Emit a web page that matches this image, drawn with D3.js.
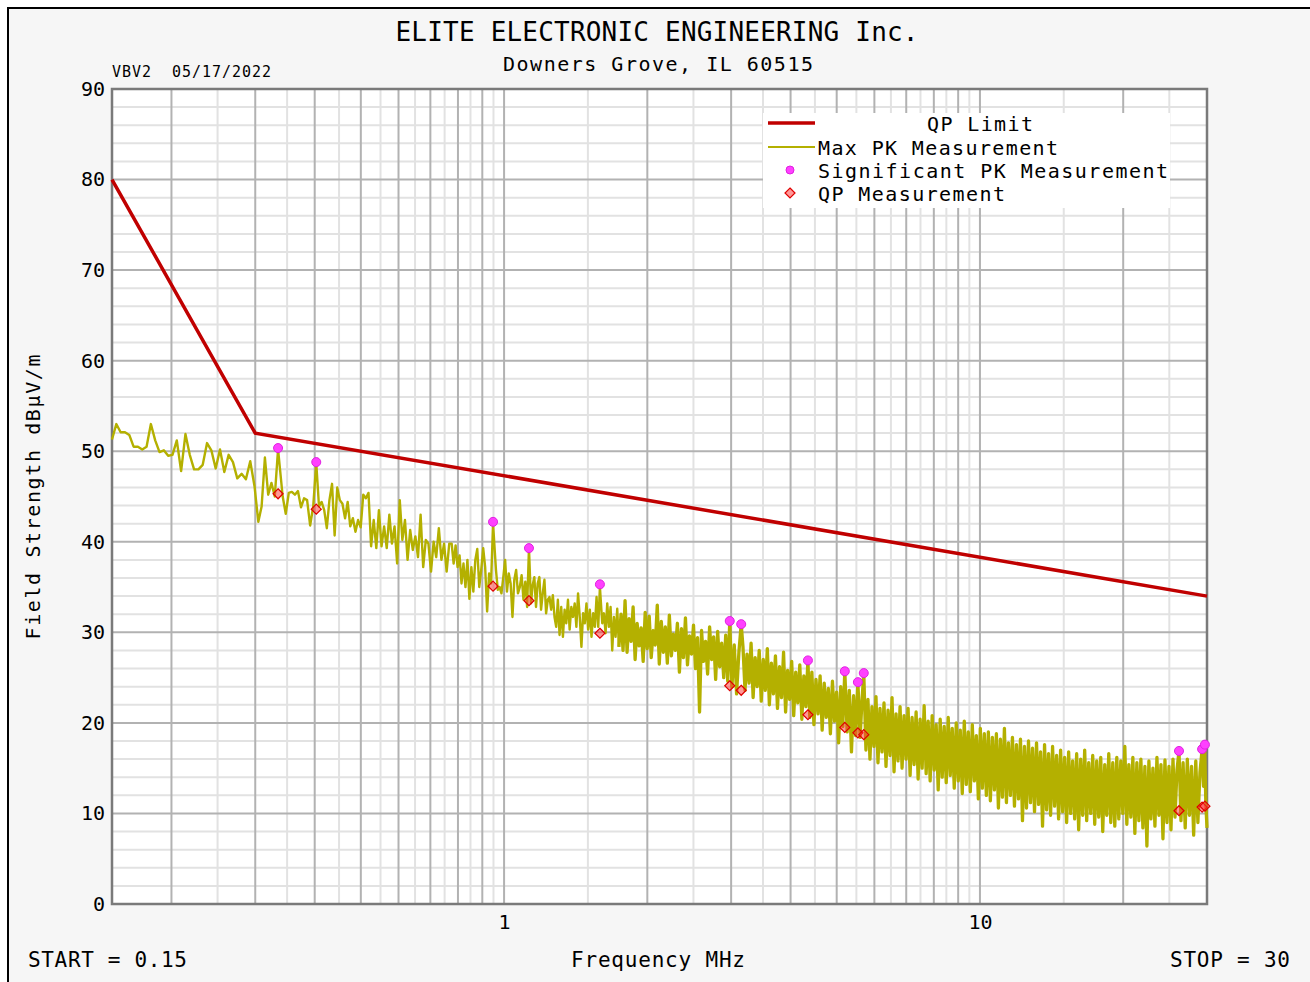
<!DOCTYPE html>
<meta charset="utf-8">
<title>Field Strength vs Frequency</title>
<style>
body { margin: 0; background: #fff; }
text { font-family: "DejaVu Sans Mono", monospace; fill: #000; }
.grid-major { stroke: #b2b2b2; stroke-width: 2; }
.grid-minor { stroke: #e2e2e2; stroke-width: 2; }
.axis path { display: none; }
.axis text { font-size: 20px; }
</style>
<body>
<script src="https://d3js.org/d3.v7.min.js"></script>
<script>

// QP limit (MHz, dBuV/m)
var limitFreq = [0.15, 0.3, 30];
var limitLevel = [80, 52, 34];

// max peak sweep, in pieces: [from MHz, to MHz, levels, spread evenly (log) over the piece]
var pkSweep = [
  [0.15, 0.299, [51.3,53.0,52.1,52.1,51.8,50.5,50.5,50.2,50.5,53.0,51.2,49.9,50.1,49.5,49.6,51.2,47.8,51.9,49.6,48.0,48.0,48.5,50.9,50.1,48.1,50.2,47.7,49.6,48.8,47.0,47.5,46.9,48.9,46.1]],
  [0.3045, 0.335, [42.2,43.9,49.3,45.2,46.5,45.0,50.2]],
  [0.3426, 0.403, [45.0,43.1,45.4,45.5,45.2,45.6,43.8,44.8,44.6,41.8,43.9,48.7]],
  [0.4084, 0.767, [43.9,44.4,43.5,41.5,44.6,46.4,40.7,46.0,44.6,44.2,42.6,44.4,41.7,42.6,41.1,42.4,41.6,45.2,44.8,45.4,39.5,42.4,39.3,43.5,39.5,41.7,39.3,43.0,39.8,41.7,37.6,44.6,40.2,42.4,38.0,41.3,39.1,40.6,38.3,43.0,37.2,40.2,39.8,36.7,40.0,38.3,41.5,38.0,39.8,36.7,39.8]],
  [0.776, 0.948, [39.8,37.6,39.6,37.2,38.5,35.4,37.6,35.0,38.0,33.7,37.2,34.5,38.0,39.2,35.0,36.9,39.3,37.2,32.3,36.5,35.4,42.0]],
  [0.9615, 1.128, [36.9,34.7,35.0,34.3,36.1,38.0,34.5,36.5,35.4,31.7,35.8,36.9,34.3,35.0,36.3,33.6,35.6,32.8,39.3]],
  [1.139, 1.59, [33.2,35.2,36.1,32.8,35.4,36.1,32.5,34.3,35.8,32.1,33.6,33.9,32.5,34.1,31.7,30.6,33.6,29.7,32.8,29.5,32.5,31.0,33.6,30.3,32.8,31.7,33.2,30.6,34.3,31.7,28.4,32.1,31.0,33.2,30.3,32.5,29.5,32.1,30.6,33.9,30.6,35.0]],
  [1.608, 1.743, [31.0,32.1,29.9,33.2,30.6,32.8,28.0,31.7,29.5,32.6,28.4]],
  [1.761, 2.98, [32.0,28.0,33.5,27.8,31.5,29.0,32.8,27.0,31.0,28.5,
                 30.5,26.8,32.2,28.2,31.8,27.2,30.2,28.6,33.0,26.5,
                 31.2,27.8,30.6,26.6,31.9,27.4,29.8,28.0,31.0,25.6,
                 30.4,27.2,31.6,26.4,29.6,27.6,30.8,26.0,29.4,21.2,
                 30.2,26.8,29.0,25.4,30.6,27.0,29.5,24.8,30.1,26.2,
                 28.8,25.0,29.7,24.6,31.2]],
  [3.012, 3.15, [24.0,28.6,23.2,27.8,30.9]],
  [3.177, 4.35, [28.4,23.6,27.6,24.4,28.8,22.8,27.2,24.0,28.0,22.4,
                 27.0,23.6,28.2,22.0,26.6,23.2,27.4,21.6,26.2,22.8,
                 27.8,21.2,25.8,22.6,26.8,20.8,25.6,22.2,26.4,20.4,
                 25.2,21.8,26.9]],
  [4.39, 5.2, [20.6,25.6,19.8,24.8,21.0,25.2,19.2,24.4,20.6,23.8,18.8,24.6,20.2,23.4,17.8,24.0,19.6,25.7]],
  [5.26, 5.54, [19.0,23.6,16.8,23.0,18.6,24.5]],
  [5.60, 5.70, [18.4,22.4,25.5]],
  [5.76, 26.2, [17.0,22.6,16.0,21.8,17.4,22.9,15.6,21.6,16.8,22.2,
                15.2,21.4,16.4,22.8,14.6,21.0,15.8,21.8,15.0,20.8,
                16.0,21.6,14.2,20.6,15.4,21.2,13.8,20.4,15.0,21.9,
                14.4,20.2,13.6,20.8,14.8,19.8,12.6,20.4,14.0,19.6,
                13.4,20.6,14.2,19.4,12.8,20.0,13.6,19.2,12.2,20.2,
                13.2,19.0,12.4,19.8,13.6,18.6,11.6,19.4,12.8,18.8,
                12.0,19.0,11.4,18.4,12.6,18.8,10.6,18.2,11.8,19.4,
                11.2,17.8,12.0,18.4,10.8,17.6,11.6,18.2,9.2,17.4,
                10.6,18.0,11.2,17.2,10.2,17.8,11.0,16.8,8.6,17.6,
                10.4,16.6,9.8,17.4,10.8,16.4,9.4,17.0,10.2,16.2,
                9.0,16.8,10.0,15.8,9.4,16.6,8.2,16.0,9.8,17.0,
                9.2,15.6,10.0,16.4,8.8,15.8,9.6,16.2,8.0,15.4,
                9.8,16.6,9.0,15.6,8.6,16.2,9.4,15.8,10.0,17.4,
                8.8,15.4,9.6,16.2,7.8,15.6,9.2,16.0,8.4,15.2,
                6.4,15.8,9.4,15.0,8.6,16.2,9.8,15.4,7.2,15.9,
                9.0,15.2,8.2,16.0,9.6,14.8,16.9]],
  [26.45, 29.3, [9.2,15.6,8.4,16.0,9.8,15.2,7.6,15.8,9.0,14.6,17.1]],
  [29.5, 30, [13.0,17.6,11.0,8.4]]
];

// significant peaks and their quasi-peak readings
var sigFreq  = [0.335, 0.403, 0.948, 1.128, 1.59, 2.98, 3.15, 4.35, 5.2, 5.54, 5.70, 26.2, 29.3, 29.7];
var sigLevel = [50.35, 48.8, 42.2, 39.3, 35.3, 31.25, 30.9, 26.9, 25.7, 24.5, 25.5, 16.9, 17.1, 17.6];
var qpLevel  = [45.3, 43.6, 35.1, 33.5, 29.9, 24.1, 23.6, 20.9, 19.5, 18.9, 18.7, 10.3, 10.7, 10.8];

var yTicks = [0, 10, 20, 30, 40, 50, 60, 70, 80, 90];
var xTicks = [1, 10];

var W = 1310, H = 982;
var pL = 112, pR = 1207, pT = 89, pB = 904;

var x = d3.scaleLog().domain([0.15, 30]).range([pL, pR]);
var y = d3.scaleLinear().domain([0, 90]).range([pB, pT]);

var svg = d3.select("body").append("svg")
    .attr("width", W)
    .attr("height", H);

// outer frame
svg.append("rect")
    .attr("x", 8).attr("y", 8)
    .attr("width", W + 20).attr("height", H + 20)
    .attr("fill", "#f6f6f6")
    .attr("stroke", "#000")
    .attr("stroke-width", 2);

svg.append("rect")
    .attr("x", pL).attr("y", pT)
    .attr("width", pR - pL).attr("height", pB - pT)
    .attr("fill", "#fff");

// grid lines
var xMajor = [], xMinor = [];
[0.1, 1, 10].forEach(function (dec) {
  for (var m = 1; m <= 9; m++) {
    var v = m * dec, h = (m + 0.5) * dec;
    if (v > 0.15 && v < 30) xMajor.push(v);
    if (h > 0.15 && h < 30) xMinor.push(h);
  }
});
var yMinor = d3.range(2, 90, 2).filter(function (d) { return d % 10 !== 0; });

var grid = svg.append("g");
grid.selectAll(".gx-min").data(xMinor).enter().append("line")
    .attr("class", "grid-minor")
    .attr("x1", d => x(d)).attr("x2", d => x(d))
    .attr("y1", pT).attr("y2", pB);
grid.selectAll(".gy-min").data(yMinor).enter().append("line")
    .attr("class", "grid-minor")
    .attr("x1", pL).attr("x2", pR)
    .attr("y1", d => y(d)).attr("y2", d => y(d));
grid.selectAll(".gx-maj").data(xMajor).enter().append("line")
    .attr("class", "grid-major")
    .attr("x1", d => x(d)).attr("x2", d => x(d))
    .attr("y1", pT).attr("y2", pB);
grid.selectAll(".gy-maj").data(yTicks.slice(1, -1)).enter().append("line")
    .attr("class", "grid-major")
    .attr("x1", pL).attr("x2", pR)
    .attr("y1", d => y(d)).attr("y2", d => y(d));

// legend box sits over the grid
var lg = svg.append("g");
lg.append("rect")
    .attr("x", 763).attr("y", 113)
    .attr("width", 407).attr("height", 95)
    .attr("fill", "#fff");

// plot frame
svg.append("rect")
    .attr("x", pL).attr("y", pT)
    .attr("width", pR - pL).attr("height", pB - pT)
    .attr("fill", "none")
    .attr("stroke", "#7a7a7a")
    .attr("stroke-width", 2.5);

// axes
svg.append("g")
    .attr("class", "axis")
    .attr("transform", "translate(" + pL + ",0)")
    .call(d3.axisLeft(y).tickValues(yTicks).tickSize(0).tickPadding(7).tickFormat(d3.format("d")));

svg.append("g")
    .attr("class", "axis")
    .attr("transform", "translate(0," + pB + ")")
    .call(d3.axisBottom(x).tickValues(xTicks).tickSize(0).tickPadding(11).tickFormat(d3.format("d")));

// traces
var pkPoints = [];
pkSweep.forEach(function (s) {
  var n = s[2].length, lf = Math.log(s[0]), lt = Math.log(s[1]);
  s[2].forEach(function (v, i) {
    var f = n === 1 ? s[0] : Math.exp(lf + (lt - lf) * i / (n - 1));
    pkPoints.push([f, v]);
  });
});

var line = d3.line()
    .x(d => x(d[0]))
    .y(d => y(d[1]));

// the sweep is drawn a bit heavier where its samples crowd together
var split = pkPoints.findIndex(d => d[0] > 1.75);
[[pkPoints.slice(0, split), 2.4], [pkPoints.slice(split - 1), 3.3]].forEach(function (p) {
  svg.append("path")
      .datum(p[0])
      .attr("d", line)
      .attr("fill", "none")
      .attr("stroke", "#b4b000")
      .attr("stroke-width", p[1])
      .attr("stroke-linejoin", "round");
});

svg.append("path")
    .datum(limitFreq.map((f, i) => [f, limitLevel[i]]))
    .attr("d", line)
    .attr("fill", "none")
    .attr("stroke", "#c00000")
    .attr("stroke-width", 3.5);

var diamond = d3.symbol().type(d3.symbolDiamond2).size(64);

svg.append("g").selectAll("path")
    .data(sigFreq)
    .enter().append("path")
    .attr("d", diamond)
    .attr("transform", (d, i) => "translate(" + x(d) + "," + y(qpLevel[i]) + ")")
    .attr("fill", "rgba(255,50,50,0.5)")
    .attr("stroke", "#e00000")
    .attr("stroke-width", 1.2);

svg.append("g").selectAll("circle")
    .data(sigFreq)
    .enter().append("circle")
    .attr("cx", d => x(d))
    .attr("cy", (d, i) => y(sigLevel[i]))
    .attr("r", 4.5)
    .attr("fill", "#ff40ff")
    .attr("stroke", "#e020e0")
    .attr("stroke-width", 1);

// legend
lg.append("line").attr("x1", 768).attr("x2", 815).attr("y1", 123).attr("y2", 123)
    .attr("stroke", "#c00000").attr("stroke-width", 3.5);
lg.append("line").attr("x1", 768).attr("x2", 815).attr("y1", 147).attr("y2", 147)
    .attr("stroke", "#b4b000").attr("stroke-width", 2);
lg.append("circle").attr("cx", 790).attr("cy", 170).attr("r", 4)
    .attr("fill", "#ff40ff").attr("stroke", "#e020e0");
lg.append("path").attr("d", diamond).attr("transform", "translate(790,193)")
    .attr("fill", "rgba(255,50,50,0.5)").attr("stroke", "#e00000").attr("stroke-width", 1.2);

function label(g, txt, xx, yy, size, len, anchor) {
  var t = g.append("text")
      .attr("x", xx).attr("y", yy)
      .attr("font-size", size)
      .attr("text-anchor", anchor || "start")
      .text(txt);
  if (len) t.attr("textLength", len).attr("lengthAdjust", "spacing");
  return t;
}

label(lg, "QP Limit", 927, 131, 20, 106);
label(lg, "Max PK Measurement", 818, 155, 20, 240);
label(lg, "Significant PK Measurement", 818, 178, 20, 350);
label(lg, "QP Measurement", 818, 201, 20, 187);

// titles and captions
label(svg, "ELITE ELECTRONIC ENGINEERING Inc.", 657, 41, 26, 523, "middle");
label(svg, "Downers Grove, IL 60515", 658, 71, 20, 310, "middle");
label(svg, "VBV2\u00a0\u00a005/17/2022", 112, 77, 15, 159);
label(svg, "START = 0.15", 28, 967, 21, 159);
label(svg, "Frequency MHz", 658, 967, 21, 174, "middle");
label(svg, "STOP = 30", 1290, 967, 21, 120, "end");

svg.append("text")
    .attr("transform", "translate(40,497) rotate(-90)")
    .attr("text-anchor", "middle")
    .attr("font-size", 20)
    .attr("textLength", 285)
    .attr("lengthAdjust", "spacing")
    .text("Field Strength dBμV/m");

</script>
</body>
